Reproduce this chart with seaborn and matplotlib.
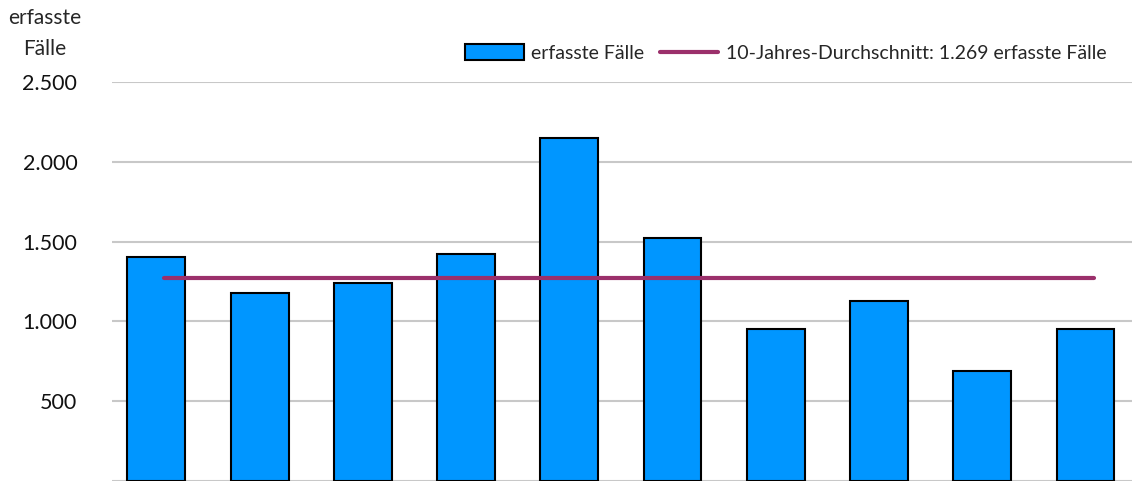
import matplotlib
matplotlib.use("Agg")
import matplotlib.pyplot as plt
import matplotlib.transforms as mtransforms
from matplotlib.ticker import FuncFormatter
import pandas as pd
import seaborn as sns

# Data
years = ["2013", "2014", "2015", "2016", "2017", "2018", "2019", "2020", "2021", "2022"]
cases = [1405, 1180, 1240, 1420, 2150, 1525, 955, 1130, 690, 955]
avg_value = 1269
yticks = [500, 1000, 1500, 2000, 2500]

bar_color = "#0096FF"
line_color = "#9B306B"

sns.set_theme(style="white")
plt.rcParams["font.family"] = ["Lato", "DejaVu Sans"]

df = pd.DataFrame({"Jahr": years, "Fälle": cases})

fig = plt.figure(figsize=(11.32, 4.82), dpi=100)
ax = fig.add_axes([112 / 1132, 1 / 482, 1 - 112 / 1132, 1 - 83 / 482])

sns.barplot(data=df, x="Jahr", y="Fälle", color=bar_color, width=0.56,
            edgecolor="black", linewidth=1.5, saturation=1, ax=ax,
            label="erfasste Fälle", zorder=3)

# average line, drawn slightly right of bar centres as in the original
shift = mtransforms.ScaledTranslation(8 / 100, 0, fig.dpi_scale_trans)
ax.plot(range(len(years)), [avg_value] * len(years), color=line_color, lw=3,
        solid_capstyle="round", zorder=4, transform=ax.transData + shift,
        label="10-Jahres-Durchschnitt: 1.269 erfasste Fälle")

ax.set_ylim(0, 2500)
ax.set_xlim(-0.43, 9.45)
ax.set_yticks(yticks)
ax.yaxis.set_major_formatter(FuncFormatter(lambda v, p: f"{v:,.0f}".replace(",", ".")))
ax.yaxis.grid(True, color="#c8c8c8", lw=1.5, zorder=0)
ax.axhline(0, color="#c8c8c8", lw=1.5, zorder=0)
ax.tick_params(axis="y", labelsize=15.5, pad=25, length=0, colors="#111111")
ax.set_xticks([])
ax.set_xlabel("")
ax.set_ylabel("")
for s in ax.spines.values():
    s.set_visible(False)

fig.text(45 / 1132, 1 - 18 / 482, "erfasste", ha="center", va="center", fontsize=15)
fig.text(45 / 1132, 1 - 49 / 482, "Fälle", ha="center", va="center", fontsize=15)

handles, labels = ax.get_legend_handles_labels()
order = [labels.index("erfasste Fälle"), labels.index("10-Jahres-Durchschnitt: 1.269 erfasste Fälle")]
ax.legend([handles[i] for i in order], [labels[i] for i in order],
          loc="center", bbox_to_anchor=(786 / 1132, 1 - 53 / 482),
          bbox_transform=fig.transFigure, ncol=2, frameon=False, fontsize=14,
          handlelength=3.0, handleheight=0.9, handletextpad=0.4, columnspacing=0.8)

fig.savefig("out.png", dpi=100)
